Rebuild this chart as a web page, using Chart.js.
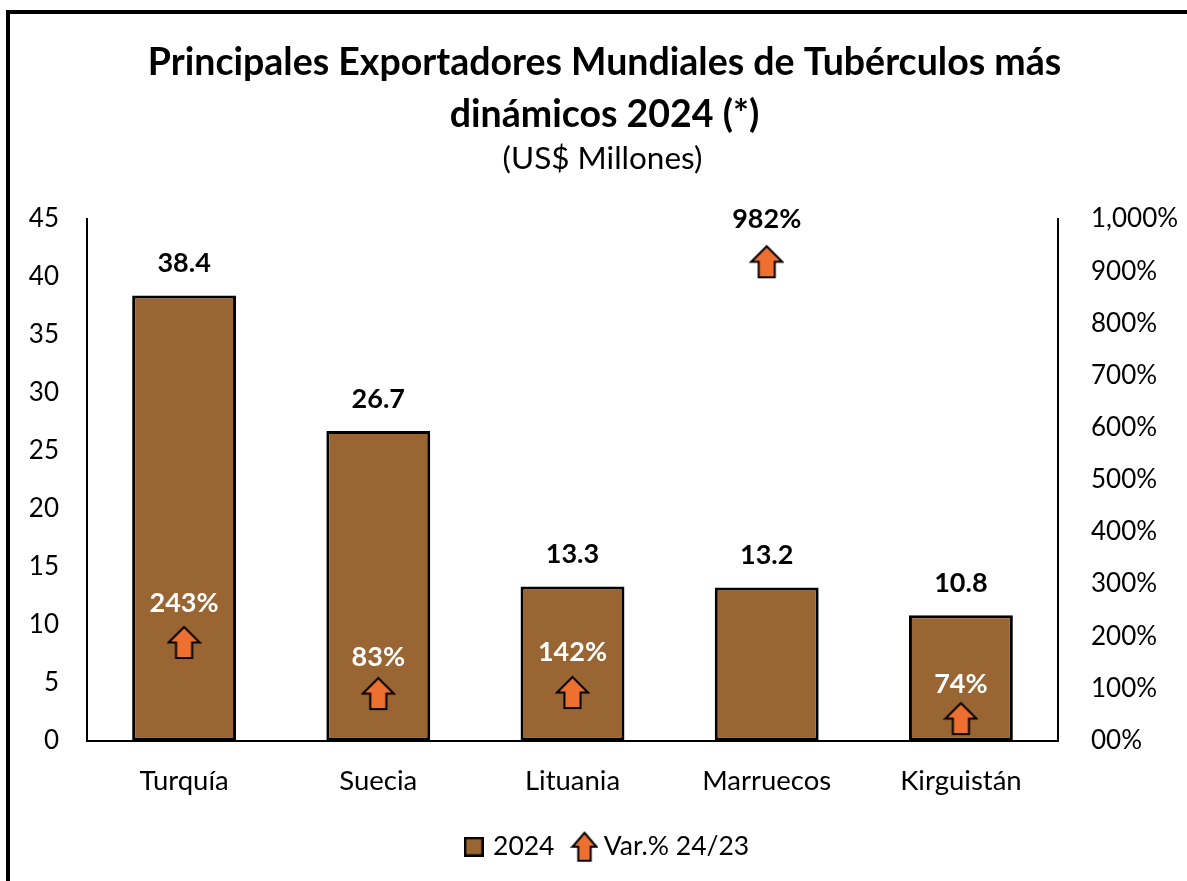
<!DOCTYPE html>
<html>
<head>
<meta charset="utf-8">
<style>
  html, body { margin: 0; padding: 0; background: #fff; overflow: hidden; }
  #wrap { position: relative; width: 1187px; height: 881px; overflow: hidden; }
  #frame { position: absolute; left: 6px; top: 10px; width: 1300px; height: 1000px; border: 4px solid #000; }
  canvas#c { position: absolute; left: 0; top: 0; }
</style>
<script src="https://cdn.jsdelivr.net/npm/chart.js@4"></script>
</head>
<body>
<div id="wrap">
  <div id="frame"></div>
  <canvas id="c" width="1187" height="881"></canvas>
</div>
<script>
// datos del grafico
const categories = ['Turquía', 'Suecia', 'Lituania', 'Marruecos', 'Kirguistán'];
const values2024 = [38.4, 26.7, 13.3, 13.2, 10.8];
const barLabels = ['38.4', '26.7', '13.3', '13.2', '10.8'];
const arrowValues = [188, 90, 92, 918, 42];
const varLabels = ['243%', '83%', '142%', '982%', '74%'];
const leftTicks = ['0', '5', '10', '15', '20', '25', '30', '35', '40', '45'];
const rightTicks = ['00%', '100%', '200%', '300%', '400%', '500%', '600%', '700%', '800%', '900%', '1,000%'];

const FONT = 'Lato, Carlito, sans-serif';
const BROWN = '#996633';
const ORANGE = '#ED7031';

// flecha naranja como pointStyle
function makeArrow(w, h) {
    const cv = document.createElement('canvas');
    cv.width = w + 4;
    cv.height = h + 4;
    const g = cv.getContext('2d');
    const x = 2, y = 2, s = w * 0.26, head = h * 0.5;
    g.beginPath();
    g.moveTo(x + w / 2, y);
    g.lineTo(x + w, y + head);
    g.lineTo(x + w / 2 + s, y + head);
    g.lineTo(x + w / 2 + s, y + h);
    g.lineTo(x + w / 2 - s, y + h);
    g.lineTo(x + w / 2 - s, y + head);
    g.lineTo(x, y + head);
    g.closePath();
    g.fillStyle = ORANGE;
    g.fill();
    g.lineWidth = 2;
    g.lineJoin = 'miter';
    g.strokeStyle = '#000';
    g.stroke();
    return cv;
}

function makeSwatch(size) {
    const cv = document.createElement('canvas');
    cv.width = size;
    cv.height = size;
    const g = cv.getContext('2d');
    g.fillStyle = BROWN;
    g.fillRect(0, 0, size, size);
    g.lineWidth = 2.5;
    g.strokeStyle = '#000';
    g.strokeRect(1.25, 1.25, size - 2.5, size - 2.5);
    return cv;
}

const arrowPoint = makeArrow(31, 31);
const arrowLegend = makeArrow(24, 28);
const swatchLegend = makeSwatch(20);

// desplazamiento de cada etiqueta % sobre su flecha
const varLabelOffsets = [39, 36, 40, 43, 34];

// etiquetas de datos
const labelsPlugin = {
    id: 'labelsPlugin',
    afterLayout(chart) {
        // titulo y leyenda no van centrados en el lienzo
        chart.titleBlock.left += 22;
        chart.boxes.forEach(b => {
            if (b.options && b.options.text === '(US$ Millones)') b.left += 18;
        });
        chart.legend.left += 30;
    },
    afterDatasetsDraw(chart) {
        const ctx = chart.ctx;
        ctx.save();
        ctx.textAlign = 'center';
        ctx.textBaseline = 'middle';
        ctx.font = 'bold 27px ' + FONT;

        chart.getDatasetMeta(0).data.forEach((bar, i) => {
            ctx.fillStyle = '#000';
            ctx.fillText(barLabels[i], bar.x, bar.y - 32);
        });

        chart.getDatasetMeta(1).data.forEach((pt, i) => {
            // el 982% queda fuera de la barra, va en negro
            ctx.fillStyle = i === 3 ? '#000' : '#fff';
            ctx.fillText(varLabels[i], pt.x, pt.y - varLabelOffsets[i]);
        });
        ctx.restore();
    }
};

new Chart(document.getElementById('c').getContext('2d'), {
    data: {
        labels: categories,
        datasets: [
            {
                type: 'bar',
                label: '2024',
                data: values2024,
                yAxisID: 'y',
                backgroundColor: BROWN,
                borderColor: '#000',
                borderWidth: 3,
                borderSkipped: false,
                barPercentage: 0.535,
                categoryPercentage: 1,
                order: 2
            },
            {
                type: 'line',
                label: 'Var.% 24/23',
                data: arrowValues,
                yAxisID: 'y2',
                showLine: false,
                pointStyle: arrowPoint,
                order: 1
            }
        ]
    },
    options: {
        responsive: false,
        animation: false,
        layout: { padding: { top: 37.5, left: 0, right: 0, bottom: 11 } },
        scales: {
            x: {
                grid: { display: false, drawTicks: false },
                border: { color: '#000', width: 2 },
                ticks: { color: '#000', font: { family: FONT, size: 27.5 }, padding: 24, maxRotation: 0 },
                afterFit(scale) { scale.height = 69; }
            },
            y: {
                position: 'left',
                min: 0,
                max: 45,
                grid: { display: false, drawTicks: false },
                border: { color: '#000', width: 2 },
                ticks: {
                    stepSize: 5,
                    color: '#000',
                    padding: 28,
                    font: { family: FONT, size: 26 },
                    callback: (v, i) => leftTicks[i]
                },
                afterFit(scale) { scale.width = 87; }
            },
            y2: {
                position: 'right',
                min: 0,
                max: 1000,
                grid: { display: false, drawTicks: false },
                border: { color: '#000', width: 2 },
                ticks: {
                    stepSize: 100,
                    color: '#000',
                    padding: 33,
                    font: { family: FONT, size: 26 },
                    callback: (v, i) => rightTicks[i]
                },
                afterFit(scale) { scale.width = 129; }
            }
        },
        plugins: {
            title: {
                display: true,
                text: ['Principales Exportadores Mundiales de Tubérculos más', 'dinámicos 2024 (*)'],
                color: '#000',
                font: { family: FONT, size: 37.5, weight: 'bold', lineHeight: 1.37 },
                padding: { top: 0, bottom: 0 }
            },
            subtitle: {
                display: true,
                text: '(US$ Millones)',
                color: '#000',
                font: { family: FONT, size: 31.5, weight: 'normal' },
                padding: { top: 0, bottom: 41 }
            },
            legend: {
                position: 'bottom',
                labels: {
                    usePointStyle: true,
                    color: '#000',
                    font: { family: FONT, size: 26.5 },
                    padding: 24,
                    boxHeight: 20,
                    pointStyleWidth: 12,
                    sort: (a, b) => a.datasetIndex - b.datasetIndex,
                    generateLabels(chart) {
                        const items = Chart.defaults.plugins.legend.labels.generateLabels(chart);
                        items.forEach(it => {
                            it.pointStyle = it.datasetIndex === 0 ? swatchLegend : arrowLegend;
                        });
                        return items;
                    }
                }
            },
            tooltip: { enabled: false }
        }
    },
    plugins: [labelsPlugin]
});
</script>
</body>
</html>
